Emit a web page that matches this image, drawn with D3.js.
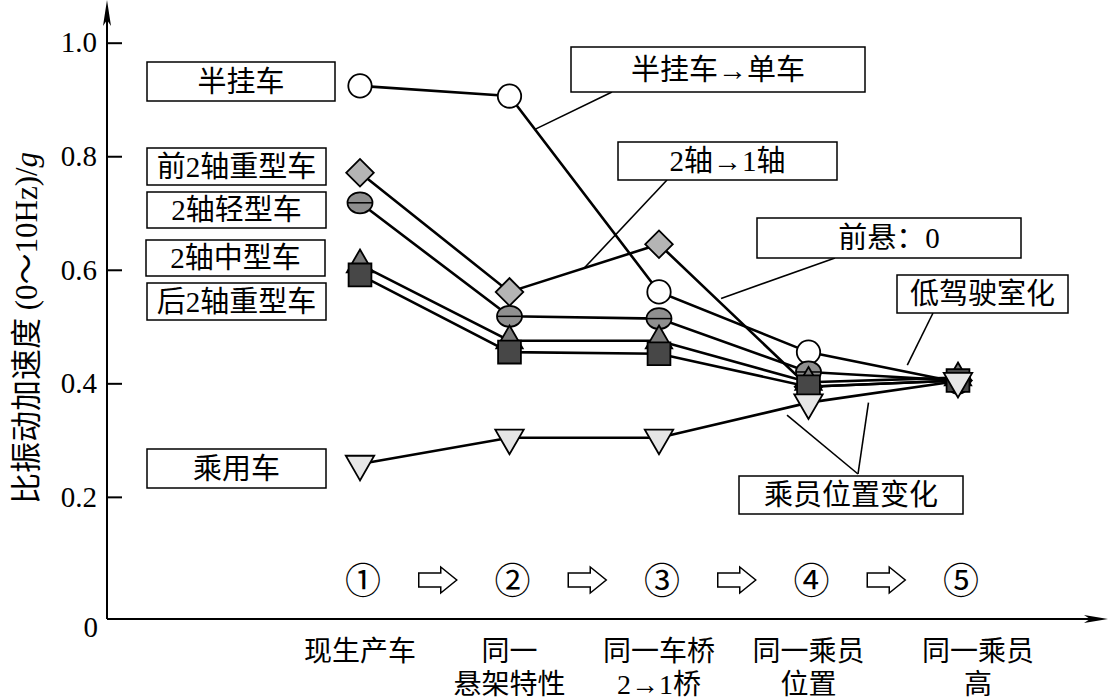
<!DOCTYPE html>
<html>
<head>
<meta charset="utf-8">
<script src="https://cdn.jsdelivr.net/npm/d3@7"></script>
<style>
  body { margin: 0; background: #fff; }
  text { font-family: "Liberation Serif", "Noto Sans CJK SC", serif; fill: #000; }
</style>
</head>
<body>
<svg id="chart" width="1109" height="700"></svg>
<script>
// Stages along the x axis
const stageLabels = [["现生产车"], ["同一", "悬架特性"], ["同一车桥", "2→1桥"], ["同一乘员", "位置"], ["同一乘员", "高"]];
const stepMarks = ["①", "②", "③", "④", "⑤"];
const yTicks = [0.2, 0.4, 0.6, 0.8, 1.0];

// Vehicle types and their values at each stage
const seriesNames = ["半挂车", "前2轴重型车", "2轴轻型车", "2轴中型车", "后2轴重型车", "乘用车"];
const semiTrailer = [0.924, 0.906, 0.561, 0.455, 0.402];
const frontTwoAxleHeavy = [0.771, 0.561, 0.645, 0.394, 0.405];
const twoAxleLight = [0.718, 0.518, 0.514, 0.420, 0.405];
const twoAxleMedium = [0.609, 0.475, 0.475, 0.402, 0.410];
const rearTwoAxleHeavy = [0.591, 0.455, 0.452, 0.394, 0.405];
const passengerCar = [0.258, 0.304, 0.304, 0.366, 0.404];

const calloutTexts = ["半挂车→单车", "2轴→1轴", "前悬：0", "低驾驶室化", "乘员位置变化"];

const svg = d3.select("#chart");
const origin = {x: 107, y: 619};

const x = d3.scalePoint().domain(d3.range(stageLabels.length)).range([360, 958]);
const y = d3.scaleLinear().domain([0, 1]).range([610.4, 42.7]);

const series = [
  {name: seriesNames[0], values: semiTrailer, shape: "circle", fill: "#ffffff"},
  {name: seriesNames[1], values: frontTwoAxleHeavy, shape: "diamond", fill: "#b4b4b4"},
  {name: seriesNames[2], values: twoAxleLight, shape: "ellipse", fill: "#8f8f8f"},
  {name: seriesNames[3], values: twoAxleMedium, shape: "triangle", fill: "#7a7a7a"},
  {name: seriesNames[4], values: rearTwoAxleHeavy, shape: "square", fill: "#474747"},
  {name: seriesNames[5], values: passengerCar, shape: "triangleDown", fill: "#e6e6e6"}
];

// Axes with arrowheads
svg.append("line")
  .attr("x1", origin.x).attr("x2", origin.x)
  .attr("y1", origin.y).attr("y2", 8)
  .attr("stroke", "#000").attr("stroke-width", 2);
svg.append("path")
  .attr("d", `M${origin.x},0 L${origin.x - 4},26 L${origin.x},20 L${origin.x + 4},26 Z`)
  .attr("fill", "#000");
svg.append("line")
  .attr("x1", origin.x).attr("x2", 1100)
  .attr("y1", origin.y).attr("y2", origin.y)
  .attr("stroke", "#000").attr("stroke-width", 2);
svg.append("path")
  .attr("d", `M1108,${origin.y} L1084,${origin.y - 4} L1090,${origin.y} L1084,${origin.y + 4} Z`)
  .attr("fill", "#000");

const yAxis = svg.append("g")
  .attr("transform", `translate(${origin.x},0)`)
  .call(d3.axisLeft(y).tickValues(yTicks).tickFormat(d3.format(".1f"))
    .tickSizeInner(-15).tickSizeOuter(0).tickPadding(10));
yAxis.select(".domain").remove();
yAxis.selectAll(".tick line").attr("stroke", "#000").attr("stroke-width", 2);
yAxis.selectAll(".tick text")
  .style("font-family", "'Liberation Serif', serif")
  .style("font-size", "29px").attr("fill", "#000");

svg.append("text")
  .attr("x", origin.x - 9).attr("y", origin.y + 18)
  .attr("text-anchor", "end")
  .style("font-size", "29px")
  .text("0");

// Y axis title
const yTitle = svg.append("text")
  .attr("transform", "translate(37,328) rotate(-90)")
  .attr("text-anchor", "middle")
  .style("font-size", "31px");
yTitle.append("tspan").text("比振动加速度 (0～10Hz)/");
yTitle.append("tspan").style("font-style", "italic").text("g");

// Stage labels under the x axis
stageLabels.forEach((lines, i) => {
  lines.forEach((t, j) => {
    svg.append("text")
      .attr("x", x(i) + (i === 4 ? 20 : 0))
      .attr("y", 651 + j * 33)
      .attr("dy", "0.35em")
      .attr("text-anchor", "middle")
      .style("font-size", "28px")
      .text(t);
  });
});

// Step markers and hollow arrows
svg.selectAll(".step")
  .data(stepMarks)
  .enter().append("text")
  .attr("class", "step")
  .attr("x", (d, i) => x(i) + 3)
  .attr("y", 581)
  .attr("dy", "0.35em")
  .attr("text-anchor", "middle")
  .style("font-size", "36px")
  .text(d => d);

const arrowShape = "M-19,-7 L3,-7 L3,-13 L19,0 L3,13 L3,7 L-19,7 Z";
d3.range(stageLabels.length - 1).forEach(i => {
  svg.append("path")
    .attr("transform", `translate(${(x(i) + x(i + 1)) / 2 + 3},580)`)
    .attr("d", arrowShape)
    .attr("fill", "#fff")
    .attr("stroke", "#000")
    .attr("stroke-width", 1.5);
});

// Series lines
const line = d3.line().x((d, i) => x(i)).y(d => y(d));
svg.selectAll(".series-line")
  .data(series)
  .enter().append("path")
  .attr("class", "series-line")
  .attr("d", d => line(d.values))
  .attr("fill", "none")
  .attr("stroke", "#000")
  .attr("stroke-width", 2.6);

// Markers
const symbolPath = {
  circle: d3.symbol(d3.symbolCircle, 430)(),
  diamond: d3.symbol(d3.symbolSquare, 380)(),
  triangle: d3.symbol(d3.symbolTriangle, 300)(),
  square: d3.symbol(d3.symbolSquare, 520)(),
  triangleDown: d3.symbol(d3.symbolTriangle, 350)()
};
const rotation = {diamond: 45, triangleDown: 180};

series.forEach(s => {
  const g = svg.append("g");
  s.values.forEach((v, i) => {
    const m = g.append("g").attr("transform", `translate(${x(i)},${y(v)})`);
    if (s.shape === "ellipse") {
      m.append("ellipse").attr("rx", 12.5).attr("ry", 10.5)
        .attr("fill", s.fill).attr("stroke", "#000").attr("stroke-width", 1.8);
      m.append("line").attr("x1", -12).attr("x2", 12)
        .attr("stroke", "#000").attr("stroke-width", 1.5);
    } else {
      m.append("path")
        .attr("d", symbolPath[s.shape])
        .attr("transform", `rotate(${rotation[s.shape] || 0})`)
        .attr("fill", s.fill).attr("stroke", "#000").attr("stroke-width", 1.8);
    }
  });
});

// Legend boxes on the left
const legendBoxes = [
  {x: 147, y: 62, w: 188, h: 39},
  {x: 147, y: 148, w: 179, h: 37},
  {x: 147, y: 192, w: 179, h: 36},
  {x: 146, y: 240, w: 179, h: 36},
  {x: 147, y: 283, w: 179, h: 37},
  {x: 147, y: 449, w: 179, h: 39}
];
legendBoxes.forEach((b, i) => {
  svg.append("rect")
    .attr("x", b.x).attr("y", b.y).attr("width", b.w).attr("height", b.h)
    .attr("fill", "#fff").attr("stroke", "#000").attr("stroke-width", 1.5);
  svg.append("text")
    .attr("x", b.x + b.w / 2).attr("y", b.y + b.h / 2)
    .attr("dy", "0.36em")
    .attr("text-anchor", "middle")
    .style("font-size", "29px")
    .text(seriesNames[i]);
});

// Callouts pointing to line segments (series index, segment start, fraction along it)
const callouts = [
  {box: {x: 571, y: 47, w: 294, h: 45}, from: [612, 92], anchors: [[0, 1, 0.17]], gap: 0},
  {box: {x: 618, y: 142, w: 219, h: 38}, from: [667, 180], anchors: [[1, 1, 0.5]], gap: 0},
  {box: {x: 757, y: 218, w: 264, h: 40}, from: [835, 258], anchors: [[1, 2, 0.39]], gap: 4},
  {box: {x: 897, y: 275, w: 171, h: 38}, from: [933, 313], anchors: [[0, 3, 0.64]], gap: 7},
  {box: {x: 739, y: 476, w: 224, h: 38}, from: [858, 474], anchors: [[5, 2, 0.81], [5, 3, 0.41]], gap: 9}
];
callouts.forEach((c, k) => {
  c.anchors.forEach(([si, seg, t]) => {
    const v = series[si].values;
    const ax = x(seg) + (x(seg + 1) - x(seg)) * t;
    const ay = y(v[seg]) + (y(v[seg + 1]) - y(v[seg])) * t;
    const dx = ax - c.from[0], dy = ay - c.from[1];
    const len = Math.hypot(dx, dy);
    const f = (len - c.gap) / len;
    svg.append("line")
      .attr("x1", c.from[0]).attr("y1", c.from[1])
      .attr("x2", c.from[0] + dx * f).attr("y2", c.from[1] + dy * f)
      .attr("stroke", "#000").attr("stroke-width", 1.6);
  });
  const b = c.box;
  svg.append("rect")
    .attr("x", b.x).attr("y", b.y).attr("width", b.w).attr("height", b.h)
    .attr("fill", "#fff").attr("stroke", "#000").attr("stroke-width", 1.5);
  svg.append("text")
    .attr("x", b.x + b.w / 2).attr("y", b.y + b.h / 2)
    .attr("dy", "0.36em")
    .attr("text-anchor", "middle")
    .style("font-size", "29px")
    .text(calloutTexts[k]);
});
</script>
</body>
</html>
